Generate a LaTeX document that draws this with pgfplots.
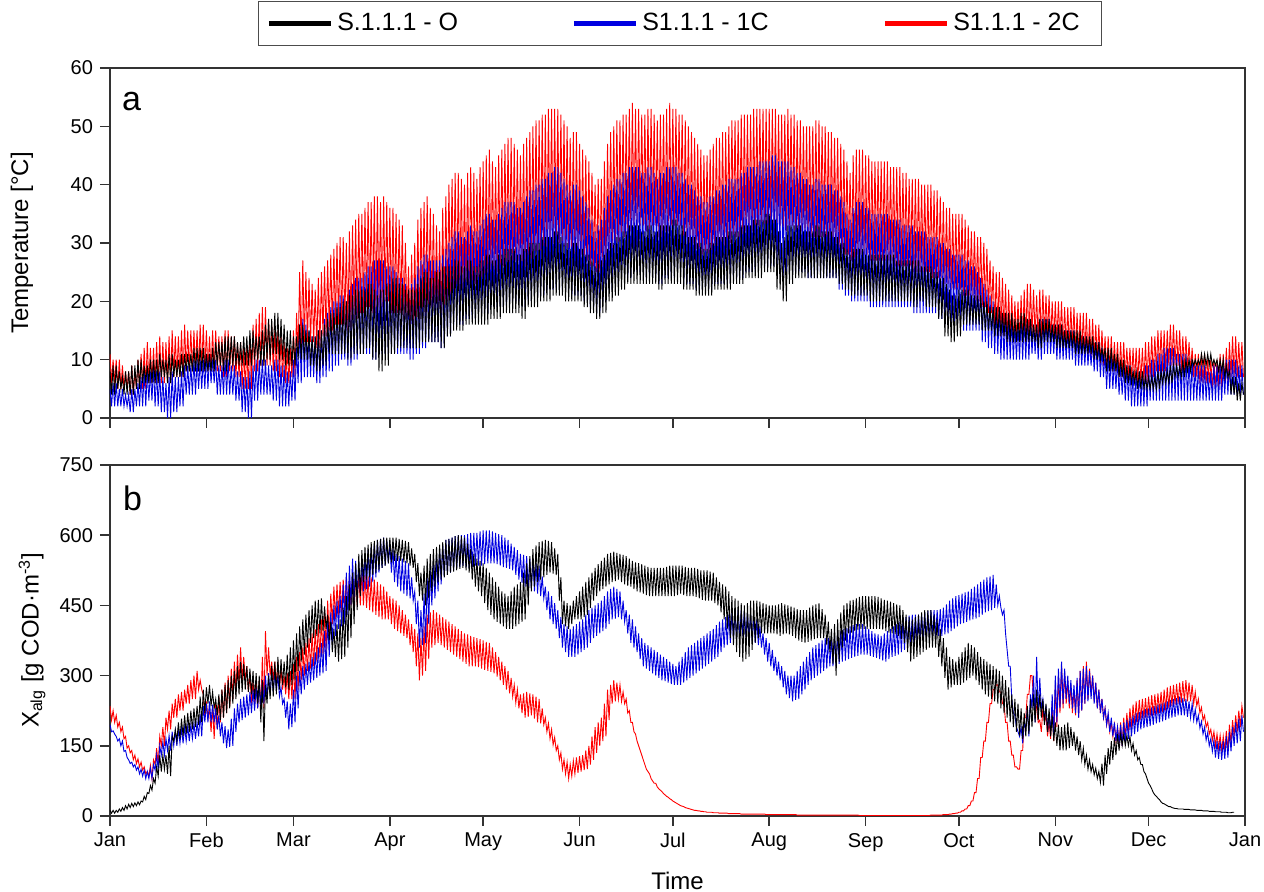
\documentclass[border=0pt]{standalone}
\usepackage{fontspec}
\setmainfont{Liberation Sans}
\usepackage{pgfplots}
\usepackage{pgfplotstable}
\pgfplotsset{compat=1.18}
\usetikzlibrary{calc}
\definecolor{cblue}{RGB}{0,0,225}
\definecolor{cred}{RGB}{255,0,0}

% Temperature: two readings per day (daily maximum, then minimum); x = day
\pgfplotstableread{
k b r
8 5 11
4 2 6
9 6 10
4 2 6
9 6 10
5 2 5
8 5 10
5 2 5
7 5 9
4 2 5
8 4 8
4 2 5
8 4 8
4 1 4
9 5 9
4 1 4
9 5 8
5 2 5
10 6 10
5 2 5
10 7 11
6 2 5
9 8 12
6 2 5
9 8 13
6 3 6
10 8 12
6 3 6
10 9 12
6 2 6
10 8 13
6 2 6
11 8 14
7 1 6
10 7 13
7 1 6
10 6 13
6 0 6
11 7 14
6 0 6
11 8 15
7 1 7
10 7 14
7 1 7
10 7 14
7 2 7
11 8 15
7 2 7
11 9 16
8 4 8
11 9 15
8 4 8
11 9 15
8 4 8
12 10 15
8 4 8
12 10 15
8 5 8
12 10 16
8 5 8
12 10 16
8 5 8
11 11 15
8 5 8
11 11 14
8 6 8
12 10 15
8 6 8
13 10 15
9 4 8
13 9 14
9 4 8
13 9 14
8 4 7
14 10 15
8 4 7
14 10 15
9 4 8
14 9 14
9 4 8
14 9 14
9 3 7
13 8 13
9 3 7
13 8 13
9 1 5
14 7 12
9 1 5
14 7 12
9 0 5
15 8 14
9 0 5
15 9 16
10 3 8
14 10 17
10 3 8
14 10 18
9 4 9
15 10 19
9 4 9
16 10 19
10 4 9
17 9 17
10 4 9
17 9 16
11 3 8
18 10 15
11 3 8
18 10 15
10 2 7
17 9 14
10 2 7
16 9 13
9 2 6
15 8 12
9 2 6
15 8 12
9 3 7
14 10 15
9 3 7
14 12 18
10 6 11
16 16 25
10 6 11
16 17 27
10 7 13
15 16 25
10 7 13
15 15 24
9 7 13
14 14 23
9 7 13
14 14 22
8 6 12
15 15 24
8 6 12
15 15 25
9 7 14
16 17 26
9 7 14
17 18 27
11 8 15
18 19 28
11 8 15
18 20 29
11 9 16
19 20 30
11 9 16
19 21 31
11 10 16
20 21 31
11 10 16
20 20 30
10 9 15
21 22 32
10 9 15
21 23 33
11 10 17
22 24 34
11 10 17
22 24 35
11 11 18
22 24 35
11 11 18
22 25 36
12 11 19
23 26 37
12 11 19
23 26 37
10 10 18
22 27 38
10 10 18
21 27 38
8 11 19
22 27 37
8 11 19
22 27 38
9 11 20
23 26 37
9 11 20
23 26 36
11 11 18
24 26 36
11 11 18
24 25 35
12 11 18
23 24 34
12 11 18
23 24 33
12 11 17
22 23 30
12 11 17
22 22 26
12 10 15
22 23 28
12 10 15
22 24 30
12 11 15
23 26 34
12 11 15
24 27 36
13 12 18
25 28 37
13 12 18
25 28 38
13 13 19
24 27 36
13 13 19
24 27 35
13 13 18
25 27 33
13 13 18
25 27 32
12 12 17
26 28 36
12 12 17
26 29 38
14 14 20
26 30 40
14 14 20
26 31 41
15 16 21
27 32 42
15 16 21
27 32 42
15 16 22
26 31 41
15 16 22
26 31 40
16 17 22
27 32 42
16 17 22
27 33 43
16 17 23
26 32 42
16 17 23
26 32 41
16 18 23
27 33 43
16 18 23
27 34 44
16 18 24
28 35 45
16 18 24
28 35 46
17 19 25
27 34 44
17 19 25
27 34 43
17 19 25
28 35 45
17 19 25
28 36 46
18 19 26
29 37 47
18 19 26
29 37 48
18 20 26
29 37 48
18 20 26
29 37 47
18 20 27
28 36 46
18 20 27
28 36 45
17 19 26
29 37 47
17 19 26
29 38 48
19 20 27
30 39 49
19 20 27
30 39 50
19 21 28
30 40 51
19 21 28
30 40 51
20 21 28
31 41 52
20 21 28
31 41 52
20 22 29
31 42 53
20 22 29
31 42 53
21 22 30
32 43 53
21 22 30
32 43 53
21 22 30
31 42 52
21 22 30
30 41 51
20 22 29
30 40 50
20 22 29
29 39 48
20 21 28
30 40 49
20 21 28
30 40 49
20 21 28
29 39 47
20 21 28
29 38 46
19 20 27
28 37 45
19 20 27
28 36 44
18 19 26
27 34 42
18 19 26
26 32 40
17 18 25
27 33 41
17 18 25
27 34 41
18 20 26
28 36 44
18 20 26
29 38 47
20 22 29
30 39 49
20 22 29
30 40 50
21 23 30
31 41 51
21 23 30
31 41 51
22 24 31
32 42 52
22 24 31
32 42 52
23 24 32
33 43 53
23 24 32
33 43 54
23 25 33
33 43 53
23 25 33
33 43 53
23 25 33
32 42 52
23 25 33
32 42 52
23 24 32
33 43 53
23 24 32
33 43 53
23 24 33
32 42 52
23 24 33
32 41 51
22 23 31
33 42 52
22 23 31
33 42 52
23 24 32
33 43 53
23 24 32
33 43 54
23 24 33
34 43 53
23 24 33
34 43 53
23 25 33
33 42 52
23 25 33
33 42 52
22 23 31
32 41 51
22 23 31
31 40 50
22 23 30
31 40 49
22 23 30
31 39 48
21 22 29
30 38 47
21 22 29
30 38 46
21 22 28
29 37 45
21 22 28
29 37 45
21 22 28
30 38 46
21 22 28
30 38 47
22 23 29
31 39 48
22 23 29
31 39 48
22 23 29
31 40 49
22 23 29
31 40 49
22 23 30
32 41 50
22 23 30
32 41 51
23 24 31
32 41 51
23 24 31
32 41 51
23 24 31
33 42 52
23 24 31
33 42 52
24 25 32
33 43 52
24 25 32
33 43 52
24 25 32
34 43 53
24 25 32
34 43 53
24 26 33
34 44 53
24 26 33
34 44 53
25 26 33
35 44 53
25 26 33
35 44 53
25 26 33
34 45 53
25 26 33
34 45 53
22 25 33
32 44 52
22 25 33
30 44 52
20 24 32
31 44 52
20 24 32
33 44 53
23 25 33
33 43 52
23 25 33
33 43 52
24 25 32
33 42 51
24 25 32
33 42 51
24 25 32
32 41 50
24 25 32
32 41 50
24 24 31
32 40 50
24 24 31
32 40 50
24 24 31
33 41 51
24 24 31
33 41 51
24 24 31
32 40 50
24 24 31
32 40 50
24 24 30
32 40 49
24 24 30
32 40 49
24 24 30
31 39 48
24 24 30
31 39 48
23 22 29
30 38 47
23 22 29
30 37 46
22 21 28
29 35 44
22 21 28
28 34 42
21 20 27
29 36 45
21 20 27
29 37 46
21 20 28
29 37 46
21 20 28
29 37 46
21 20 28
28 36 45
21 20 28
28 36 45
20 19 27
28 35 44
20 19 27
28 35 44
20 19 27
28 35 44
20 19 27
28 35 44
20 19 27
28 35 44
20 19 27
28 35 44
20 19 27
28 34 43
20 19 27
28 34 43
20 19 26
27 34 43
20 19 26
27 34 43
20 19 26
27 33 42
20 19 26
27 33 42
20 19 26
27 33 41
20 19 26
27 33 41
19 18 25
27 32 41
19 18 25
27 32 41
20 18 25
26 32 40
20 18 25
26 32 40
19 18 25
26 31 40
19 18 25
26 31 40
19 18 24
25 31 39
19 18 24
25 31 39
17 17 24
24 30 38
17 17 24
24 30 37
14 16 23
23 29 36
14 16 23
22 29 36
13 16 22
21 28 35
13 16 22
21 28 35
14 16 22
22 28 35
14 16 22
22 28 35
16 15 21
22 27 34
16 15 21
22 27 33
16 15 21
21 26 32
16 15 21
21 26 32
16 15 20
21 25 31
16 15 20
21 24 31
15 13 19
20 23 30
15 13 19
20 22 29
15 12 18
19 21 27
15 12 18
19 20 26
14 11 15
19 19 25
14 11 15
19 19 25
14 10 14
18 18 24
14 10 14
18 18 23
13 10 13
18 17 22
13 10 13
18 17 21
13 10 13
17 16 20
13 10 13
17 16 20
13 10 13
18 17 21
13 10 13
18 17 22
13 10 13
17 17 23
13 10 13
17 17 23
13 11 14
16 16 22
13 11 14
16 16 21
12 10 13
17 17 22
12 10 13
17 17 22
13 11 14
17 17 21
13 11 14
17 17 21
13 11 13
16 16 20
13 11 13
16 16 20
12 10 13
16 16 20
12 10 13
16 16 20
12 10 12
15 15 19
12 10 12
15 15 19
12 10 12
15 15 19
12 10 12
15 15 19
11 9 11
15 14 18
11 9 11
15 14 18
11 9 11
14 14 18
11 9 11
14 14 18
11 9 10
14 13 17
11 9 10
14 13 17
10 8 10
13 13 16
10 8 10
13 13 16
10 7 9
12 12 15
10 7 9
12 11 14
8 5 8
12 11 14
8 5 8
12 11 14
8 5 8
11 10 13
8 5 8
11 10 13
7 4 7
10 9 13
7 4 7
10 9 13
6 3 7
9 9 12
6 3 7
9 9 12
6 2 6
8 8 12
6 2 6
8 8 12
5 2 6
8 8 12
5 2 6
8 8 12
5 2 6
7 9 13
5 2 6
7 9 13
5 3 7
7 10 14
5 3 7
7 10 14
5 3 8
8 11 15
5 3 8
8 11 15
6 3 8
8 12 15
6 3 8
8 12 15
6 3 9
9 12 16
6 3 9
9 12 16
7 3 9
9 11 15
7 3 9
9 11 15
7 3 8
10 11 14
7 3 8
10 11 14
8 3 8
10 10 13
8 3 8
10 10 12
9 3 7
10 9 11
9 3 7
10 9 11
9 3 6
11 9 11
9 3 6
11 9 11
9 3 6
11 8 10
9 3 6
11 8 10
9 3 5
10 9 10
9 3 5
10 9 10
8 3 5
10 9 11
8 3 5
10 9 11
7 4 6
9 10 12
7 4 6
8 10 13
4 4 7
7 10 14
4 4 7
7 10 14
3 4 7
6 9 13
3 4 7
6 9 13
4 4 7
}\tempdata

% Xalg: two readings per day; x = day
\pgfplotstableread{
k b r
12 195 235
6 180 205
12 182 225
6 175 200
12 170 215
8 160 190
15 165 200
10 150 180
18 160 190
12 138 165
22 140 170
15 125 145
25 120 150
18 112 135
27 115 140
20 105 120
28 110 130
22 98 112
30 105 122
24 90 105
32 100 115
30 85 98
42 98 105
35 80 90
50 95 95
48 80 85
65 102 108
55 80 80
80 110 120
70 98 110
105 130 145
85 100 110
130 150 170
95 130 150
130 158 190
100 130 150
130 165 210
90 140 185
150 172 225
85 140 185
170 180 240
160 150 210
185 182 250
160 150 210
200 185 260
165 155 225
208 188 265
170 155 225
215 190 270
175 160 240
220 192 280
180 160 240
225 195 290
185 165 250
230 198 300
190 165 250
235 200 310
195 170 270
255 218 290
200 170 270
270 235 260
220 200 210
275 240 245
240 200 210
280 245 230
235 200 180
265 238 235
230 200 165
250 230 240
215 185 185
260 215 255
205 170 200
270 200 270
210 155 210
280 192 285
220 145 220
290 185 300
230 148 235
300 208 315
240 150 250
310 230 330
250 180 265
320 240 345
260 200 280
330 250 360
265 205 285
325 255 340
270 210 290
320 260 320
265 215 265
315 265 305
260 220 240
310 270 290
250 225 235
305 275 290
240 230 230
300 280 290
200 235 230
290 290 340
160 240 230
280 300 395
240 250 300
300 305 360
250 260 300
320 310 330
255 265 290
330 305 330
260 270 280
340 300 330
270 255 275
335 275 315
280 240 270
330 250 300
275 210 260
345 245 305
270 185 250
360 240 310
280 190 250
375 270 325
290 200 250
390 300 340
310 230 270
405 310 350
330 260 290
420 320 360
345 270 300
430 325 370
360 280 310
440 330 380
370 285 315
450 340 390
380 290 320
460 350 400
385 295 330
462 360 410
390 300 340
465 370 420
395 305 345
448 395 440
400 310 350
430 420 460
375 340 380
415 435 475
350 370 410
400 450 490
340 385 420
410 460 495
330 400 430
420 470 500
335 405 435
445 495 505
340 410 440
470 520 510
360 430 445
495 535 512
380 450 450
520 550 515
410 460 450
540 545 518
440 470 450
560 540 520
470 475 450
568 550 518
500 480 450
575 560 515
505 485 445
580 568 512
510 490 440
585 575 510
515 500 435
588 582 505
520 510 430
590 590 500
525 520 425
592 592 495
530 530 420
595 595 490
535 535 420
595 588 480
540 540 420
595 580 470
542 520 410
595 570 465
545 500 400
595 560 460
545 490 395
592 555 450
545 480 390
590 550 440
542 475 385
588 545 430
540 470 380
585 540 420
535 465 365
572 510 410
530 460 350
560 480 400
500 410 320
540 460 390
470 360 290
520 440 380
460 365 300
535 475 405
450 370 310
550 510 430
465 410 335
560 525 435
480 450 360
570 540 440
490 465 365
575 555 435
500 480 370
580 570 430
505 495 365
585 580 425
510 510 360
590 590 420
515 515 355
592 592 415
520 520 350
595 595 410
522 525 345
598 598 405
525 530 340
600 600 400
528 532 335
598 600 395
530 535 330
595 600 390
525 532 325
582 602 388
520 530 320
570 605 385
505 532 320
560 605 382
490 535 320
550 605 380
480 535 318
545 608 378
470 535 315
540 610 375
455 538 312
530 610 372
440 540 310
520 610 370
430 540 308
510 608 360
420 540 305
500 605 350
415 538 298
490 602 340
410 535 290
480 600 330
405 532 280
475 595 320
400 530 270
470 590 310
400 528 262
480 582 295
400 525 255
490 575 280
405 515 242
495 568 270
410 505 230
500 560 260
415 498 220
520 558 262
420 490 210
540 555 265
450 488 212
555 550 262
480 485 215
570 545 260
490 480 208
578 540 255
500 475 200
585 535 250
505 470 198
588 512 230
510 465 195
590 490 210
515 440 180
588 480 198
520 420 165
585 470 185
518 410 152
572 455 168
515 400 140
560 440 150
460 380 120
510 425 135
410 360 100
460 410 120
405 350 90
455 405 115
400 340 80
450 400 110
410 340 85
460 405 118
420 340 90
470 410 125
420 345 92
480 415 128
420 350 95
490 420 130
425 355 98
500 430 140
430 360 100
510 440 150
445 370 110
520 445 170
460 380 120
530 450 190
470 385 135
538 455 200
480 390 150
545 460 210
485 395 160
552 470 240
490 400 170
560 480 270
495 410 205
562 485 280
500 420 240
565 490 290
502 422 245
562 485 285
505 425 250
560 480 280
500 420 245
558 460 265
495 415 240
555 440 250
492 390 220
550 430 225
490 370 200
545 420 200
485 360 180
542 405 175
480 350 160
540 390 150
478 335 140
538 380 130
475 320 120
535 370 110
472 315 100
532 365 95
470 310 90
530 360 80
470 305 75
530 355 70
470 300 70
530 350 62
470 295 58
530 345 55
470 290 52
530 340 48
470 288 45
532 335 42
470 285 40
535 330 37
470 282 35
535 325 32
470 280 30
535 320 28
472 280 26
535 330 24
475 280 22
535 340 21
472 285 20
532 350 18
470 290 17
530 360 16
470 295 15
530 365 14
470 300 13
530 370 12
468 305 12
528 375 11
465 310 11
525 380 10
462 315 10
525 385 9
460 320 9
525 390 8
460 325 8
522 395 8
460 330 8
520 400 7
455 335 7
510 408 7
450 340 7
500 415 6
435 350 6
495 420 6
420 360 6
490 425 6
400 365 6
480 430 5
380 370 5
470 435 5
365 375 5
465 438 5
350 380 5
460 440 5
340 382 5
455 440 4
330 385 4
450 440 4
335 382 4
455 435 4
340 380 4
460 430 4
355 375 4
460 425 4
370 370 4
460 420 4
380 365 4
458 405 4
390 360 4
455 390 4
390 345 4
452 380 3
390 330 3
450 370 3
390 320 3
450 355 3
390 310 3
450 340 3
388 300 3
452 330 3
385 290 3
455 320 3
388 275 3
452 310 3
390 260 3
450 300 3
388 252 3
448 300 3
385 245 3
445 300 3
380 248 3
442 310 2
375 250 2
440 320 2
372 260 2
440 330 2
370 270 2
440 340 2
372 280 2
445 350 2
375 290 2
450 360 2
378 295 2
452 365 2
380 300 2
455 370 2
380 305 2
442 375 2
380 310 2
430 380 2
365 315 2
415 380 2
350 320 2
400 380 2
325 320 2
410 385 2
300 320 2
420 390 2
330 325 2
435 395 2
360 330 2
450 400 2
375 332 2
455 402 2
390 335 2
460 405 2
392 338 2
462 408 2
395 340 2
465 410 2
398 342 2
468 410 1
400 345 1
470 410 1
400 345 1
470 405 1
400 345 1
470 400 1
400 342 1
470 395 1
400 340 1
470 390 1
400 338 1
468 388 1
400 335 1
465 385 1
398 332 1
462 390 1
395 330 1
460 395 1
392 335 1
458 400 1
390 340 1
455 405 1
388 342 1
452 410 1
385 345 1
450 415 1
378 350 1
440 420 1
370 355 1
430 425 1
350 360 1
425 428 1
330 365 1
420 430 1
335 370 1
425 430 1
340 375 1
430 430 1
345 378 1
435 432 1
350 380 1
440 435 1
355 380 1
440 438 1
360 380 1
440 440 2
360 382 2
430 440 2
360 385 2
420 440 2
340 385 2
400 442 2
320 385 2
380 445 3
295 388 3
360 452 3
270 390 3
340 460 4
275 395 4
335 465 5
280 400 5
330 470 6
280 405 6
340 472 8
280 410 8
350 475 11
285 412 11
360 478 15
290 415 15
370 480 22
295 418 22
365 485 32
300 420 32
360 490 50
290 422 50
350 495 80
280 425 80
340 500 125
270 430 125
335 505 160
260 435 160
330 510 200
255 438 200
325 512 240
250 440 240
320 515 270
245 445 270
315 495 280
240 450 280
310 470 265
230 445 265
300 430 240
220 440 240
290 390 200
210 355 200
275 320 160
200 320 160
260 250 130
190 220 130
250 215 105
180 190 105
240 180 100
172 170 100
230 190 140
165 155 140
220 200 210
170 185 210
235 230 260
175 170 260
250 260 300
190 230 300
260 300 250
200 200 250
270 340 230
205 215 200
260 295 205
210 230 180
250 250 230
195 205 200
240 235 215
180 180 170
230 220 200
170 175 165
215 260 240
160 170 160
200 300 280
150 200 190
195 315 300
140 230 220
190 330 320
140 240 230
195 315 305
140 250 240
200 300 290
145 240 230
190 290 280
150 230 220
180 280 270
140 220 215
170 295 290
130 210 210
160 310 310
120 225 225
145 315 320
110 240 240
130 320 330
100 245 250
120 310 315
95 250 260
110 300 300
88 240 245
102 285 285
80 230 230
95 270 270
72 220 220
112 250 250
65 210 210
130 230 230
90 195 195
145 220 215
110 180 180
160 210 200
120 170 170
168 200 195
130 160 160
175 190 190
140 155 155
175 195 200
150 150 150
175 200 210
150 158 165
172 205 220
150 165 180
170 210 230
140 170 188
155 215 238
130 175 195
140 220 245
120 180 200
125 222 248
110 185 205
110 225 250
95 188 208
90 228 252
80 190 210
70 230 255
65 192 212
58 232 258
50 195 215
45 235 260
42 198 218
38 238 262
35 200 220
30 240 265
27 202 222
26 242 270
24 205 225
22 245 275
20 208 230
20 248 278
18 210 235
17 250 280
16 212 238
16 252 282
15 215 240
15 255 285
15 215 242
15 252 288
14 215 245
14 250 290
14 212 245
14 245 285
13 210 245
13 240 280
13 205 240
13 228 265
12 200 235
12 215 250
12 188 220
12 202 232
11 175 205
11 190 215
11 162 190
11 178 200
10 150 175
10 165 185
10 138 162
10 162 180
9 125 150
9 160 175
9 122 145
9 160 172
8 120 140
8 160 170
8 122 140
8 170 182
7 125 140
7 180 195
7 138 155
8 190 205
8 150 170
nan 200 215
nan 155 180
nan 208 225
nan 160 190
nan 215 235
nan 180 210
}\xalgdata

\begin{document}
\begin{tikzpicture}
\useasboundingbox (-55pt,-237pt) rectangle (577pt,209pt);
\pgfplotsset{
  every axis/.append style={
    scale only axis, width=567.5pt, xmin=0, xmax=365,
    xtick={0,31,59,90,120,151,181,212,243,273,304,334,365},
    tick pos=left, tick align=outside, major tick length=5pt,
    axis line style={black!80, line width=0.8pt},
    tick style={black!80, line width=0.8pt},
    tick label style={font=\fontsize{10}{12}\selectfont},
    /pgf/number format/assume math mode=true,
    label style={font=\fontsize{12}{14}\selectfont},
  },
}
\begin{axis}[
  name=top, at={(0,0)}, anchor=south west, height=175pt,
  ymin=0, ymax=60, ytick={0,10,20,30,40,50,60},
  xticklabels={},
  ylabel={Temperature [°C]},
  ylabel style={at={(axis description cs:-0.0775,0.5)}, anchor=center},
  legend columns=3,
  reverse legend,
  legend cell align=left,
  legend style={at={(0.502,1)}, anchor=south, yshift=11pt, draw=black!70, line width=0.6pt,
    font=\fontsize{12.5}{14}\selectfont, inner xsep=4pt, inner ysep=3.8pt},
  legend image code/.code={\draw[#1, line width=2.5pt] (0pt,0pt) -- (31pt,0pt);},
]
\addplot[cred, line width=0.45pt] table[x expr=\coordindex*0.5, y=r] {\tempdata};
\addlegendentry{\makebox[68pt][l]{S1.1.1 - 2C}}
\addplot[cblue, line width=0.45pt] table[x expr=\coordindex*0.5, y=b] {\tempdata};
\addlegendentry{\makebox[118pt][l]{S1.1.1 - 1C}}
\addplot[black, line width=0.45pt] table[x expr=\coordindex*0.5, y=k] {\tempdata};
\addlegendentry{\makebox[115pt][l]{S.1.1.1 - O}}
\node[font=\fontsize{17}{20}\selectfont] at (rel axis cs:0.019,0.903) {a};
\end{axis}
\begin{axis}[
  at={($(top.south west)+(0,-23.5pt)$)}, anchor=north west, height=175.5pt,
  ymin=0, ymax=750, ytick={0,150,300,450,600,750},
  xticklabels={Jan,Feb,Mar,Apr,May,Jun,Jul,Aug,Sep,Oct,Nov,Dec,Jan},
  xlabel={Time},
  xlabel style={at={(axis description cs:0.5,-0.185)}, anchor=center},
  ylabel={X\textsubscript{alg} [g COD·m\textsuperscript{-3}]},
  ylabel style={at={(axis description cs:-0.0687,0.5)}, anchor=center},
]
\addplot[cred, line width=0.45pt] table[x expr=\coordindex*0.5, y=r] {\xalgdata};
\addplot[cblue, line width=0.45pt] table[x expr=\coordindex*0.5, y=b] {\xalgdata};
\addplot[black, line width=0.45pt] table[x expr=\coordindex*0.5, y=k] {\xalgdata};
\node[font=\fontsize{17}{20}\selectfont] at (rel axis cs:0.02,0.906) {b};
\end{axis}
\end{tikzpicture}
\end{document}
